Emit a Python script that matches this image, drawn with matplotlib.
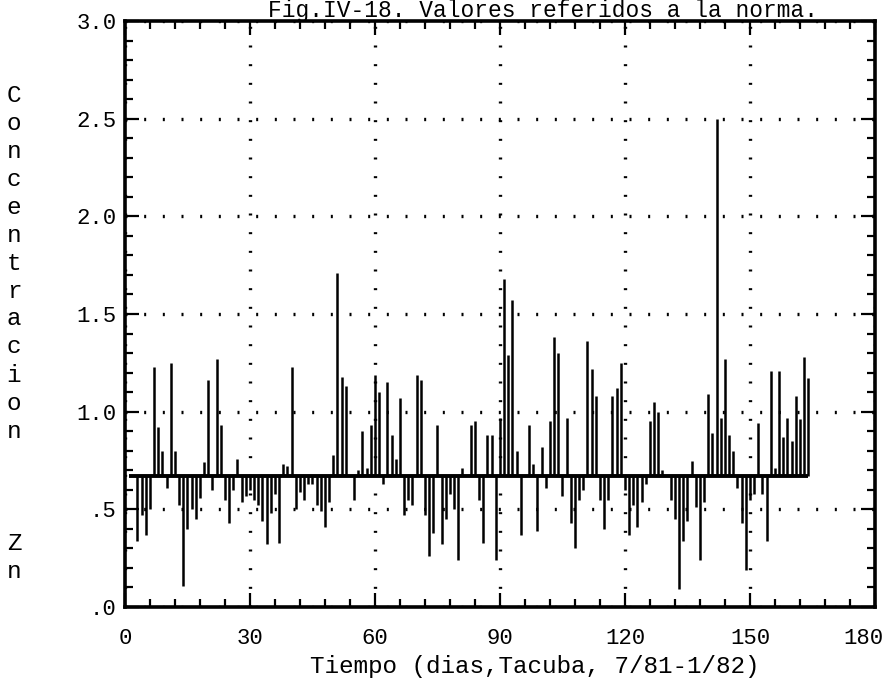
import numpy as np
import matplotlib.pyplot as plt
from matplotlib.ticker import MultipleLocator
from matplotlib.transforms import ScaledTranslation

# valores diarios referidos a la norma (Zn, Tacuba 7/81-1/82)
norma = 0.67
dias = np.arange(1, 165)
valores = [
    0.67, 0.67, 0.34, 0.47, 0.37, 0.50, 1.23, 0.92, 0.80, 0.61,
    1.25, 0.80, 0.52, 0.11, 0.40, 0.50, 0.45, 0.56, 0.74, 1.16,
    0.60, 1.27, 0.93, 0.55, 0.43, 0.60, 0.76, 0.54, 0.57, 0.60,
    0.55, 0.52, 0.44, 0.32, 0.48, 0.58, 0.33, 0.73, 0.72, 1.23,
    0.50, 0.59, 0.55, 0.63, 0.63, 0.52, 0.49, 0.41, 0.54, 0.78,
    1.71, 1.18, 1.13, 0.67, 0.55, 0.70, 0.90, 0.71, 0.93, 1.19,
    1.10, 0.63, 1.15, 0.88, 0.76, 1.07, 0.47, 0.55, 0.52, 1.19,
    1.16, 0.47, 0.26, 0.38, 0.93, 0.32, 0.45, 0.58, 0.50, 0.24,
    0.71, 0.67, 0.93, 0.95, 0.55, 0.33, 0.88, 0.88, 0.24, 0.97,
    1.68, 1.29, 1.57, 0.80, 0.37, 0.67, 0.93, 0.73, 0.39, 0.82,
    0.61, 0.95, 1.38, 1.30, 0.57, 0.97, 0.43, 0.30, 0.55, 0.60,
    1.36, 1.22, 1.08, 0.55, 0.40, 0.55, 1.08, 1.12, 1.25, 0.60,
    0.37, 0.52, 0.41, 0.54, 0.63, 0.95, 1.05, 1.00, 0.70, 0.67,
    0.55, 0.45, 0.09, 0.34, 0.44, 0.75, 0.51, 0.24, 0.54, 1.09,
    0.89, 2.50, 0.97, 1.27, 0.88, 0.80, 0.61, 0.43, 0.19, 0.55,
    0.58, 0.94, 0.58, 0.34, 1.21, 0.71, 1.21, 0.87, 0.97, 0.85,
    1.08, 0.96, 1.28, 1.17,
]

xticks = [0, 30, 60, 90, 120, 150, 180]
yticks = [0, 0.5, 1.0, 1.5, 2.0, 2.5, 3.0]
ylabels = ['.0', '.5', '1.0', '1.5', '2.0', '2.5', '3.0']
titulo = 'Fig.IV-18. Valores referidos a la norma.'
xlabel = 'Tiempo (dias,Tacuba, 7/81-1/82)'
ylabel = 'Concentracion   Zn'

plt.rcParams['font.family'] = ['Liberation Mono', 'DejaVu Sans Mono']
fs = 17.5

fig = plt.figure(figsize=(8.87, 6.91), dpi=100)
ax = fig.add_axes([125/887, 1-607/691, 750/887, 586/691])

ax.vlines(dias, norma, valores, color='black', lw=1.8)
ax.hlines(norma, dias[0], dias[-1], color='black', lw=2.8)

ax.set_xlim(0, 180)
ax.set_ylim(0, 3.0)
ax.set_xticks(xticks)
ax.set_yticks(yticks)
ax.set_yticklabels(ylabels)
ax.xaxis.set_minor_locator(MultipleLocator(6))
ax.yaxis.set_minor_locator(MultipleLocator(0.1))
ax.tick_params(which='both', direction='in', top=True, right=True,
               width=1.6, labelsize=16, color='black')
ax.tick_params(which='major', length=10)
ax.tick_params(which='minor', length=6)
ax.tick_params(axis='x', pad=15)
ax.tick_params(axis='y', pad=6)
for s in ax.spines.values():
    s.set_linewidth(2.6)

# the last x label sits a bit inside the page edge
last = ax.get_xticklabels()[-1]
last.set_transform(last.get_transform() + ScaledTranslation(-12/100, 0, fig.dpi_scale_trans))

ax.grid(True, which='major', color='black', lw=2.4, linestyle=(0, (0.6, 5.0)))
ax.set_axisbelow(True)

fig.text(543/887, 1-17.5/691, titulo, ha='center', va='baseline', fontsize=16.5)
fig.text(535/887, 1-666/691, xlabel, ha='center', va='center', fontsize=fs)
for i, ch in enumerate(ylabel):
    fig.text(14/887, 1-(95 + i*28)/691, ch, ha='center', va='center', fontsize=fs)

fig.savefig('out.png', dpi=100)
